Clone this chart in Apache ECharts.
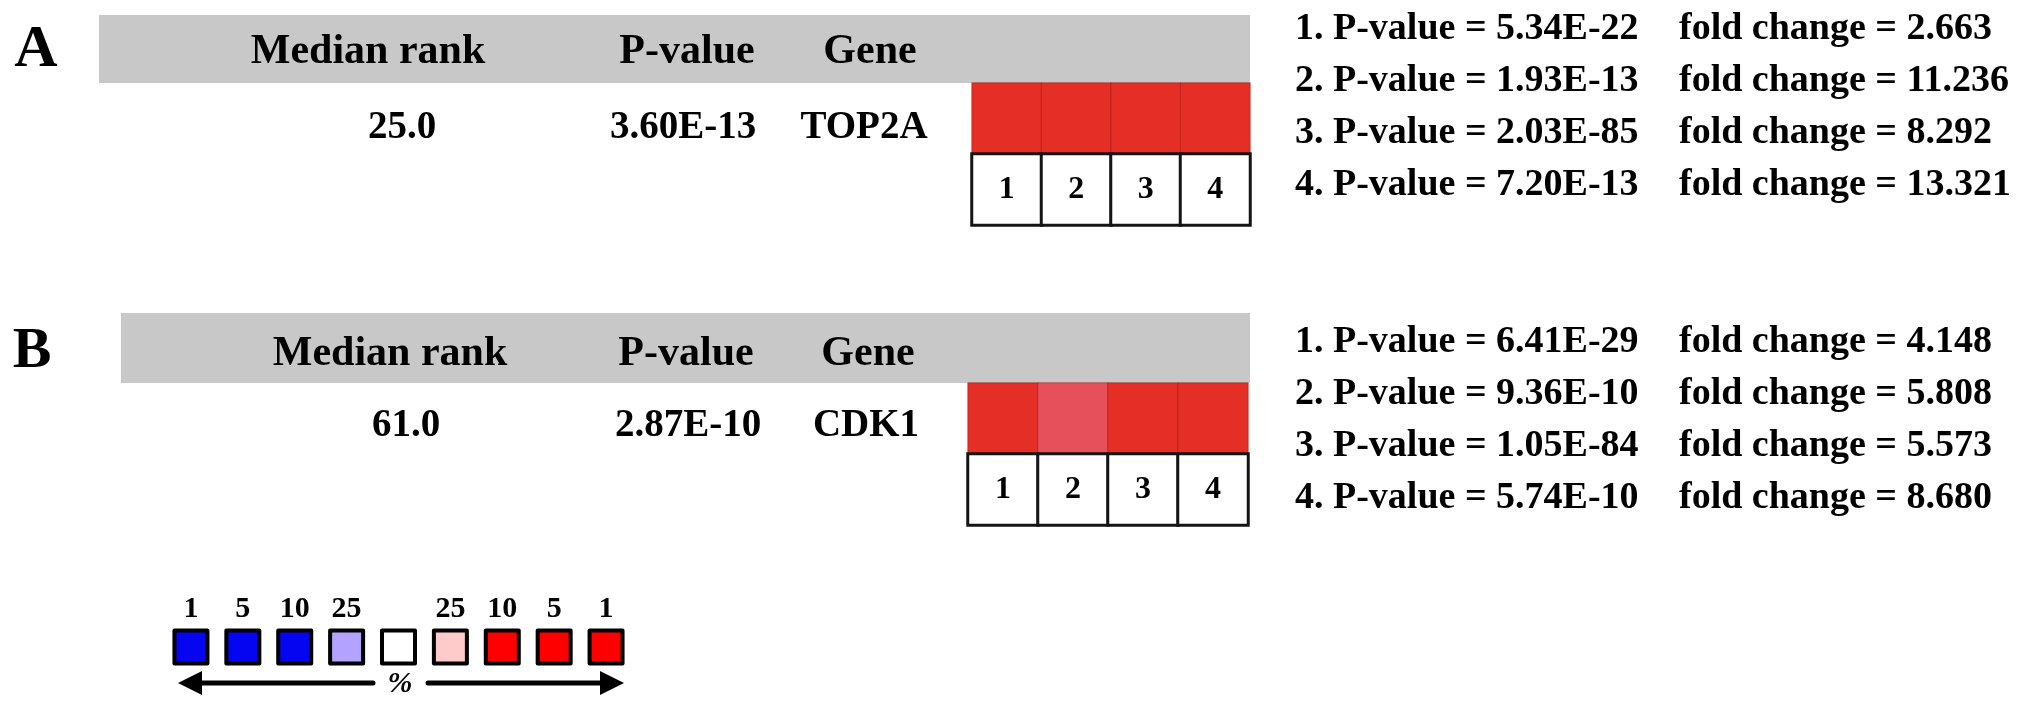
<!DOCTYPE html>
<html>
<head>
<meta charset="utf-8">
<script src="https://cdn.jsdelivr.net/npm/echarts@6/dist/echarts.min.js"></script>
<style>
html,body{margin:0;padding:0;background:#fff;}
#chart{width:2031px;height:709px;}
</style>
</head>
<body>
<div id="chart"></div>
<script>
// ---------------- data ----------------
const panelLetters = ['A', 'B'];
const headerLabels = ['Median rank', 'P-value', 'Gene'];
const medianRanks = ['25.0', '61.0'];
const geneP = ['3.60E-13', '2.87E-10'];
const genes = ['TOP2A', 'CDK1'];
const analysisIds = ['1', '2', '3', '4'];
// percentile rank class of each analysis cell (1 = top 1%, 5 = top 5%)
const cellPercentileA = [1, 1, 1, 1];
const cellPercentileB = [1, 5, 1, 1];
const studyPA = ['5.34E-22', '1.93E-13', '2.03E-85', '7.20E-13'];
const foldA = ['2.663', '11.236', '8.292', '13.321'];
const studyPB = ['6.41E-29', '9.36E-10', '1.05E-84', '5.74E-10'];
const foldB = ['4.148', '5.808', '5.573', '8.680'];
const legendLabels = ['1', '5', '10', '25', '', '25', '10', '5', '1'];
const legendClasses = ['u1', 'u5', 'u10', 'u25', 'none', 'o25', 'o10', 'o5', 'o1'];

// ---------------- styles / layout ----------------
const FONT = '"Liberation Serif", "Times New Roman", serif';
const classColor = {
  u1: '#0505f2', u5: '#0505f2', u10: '#0505f2', u25: '#b3a2ff',
  none: '#ffffff', o25: '#ffcaca', o10: '#ff0000', o5: '#ff0000', o1: '#ff0000'
};
const cellColorPieces = [
  { value: 1, color: '#e42e26' },
  { value: 5, color: '#e5505a' }
];

const layouts = [
  { letterX: 36, letterY: 50, letterSize: 60, bandX: 99, bandY: 15, bandH: 68,
    headX: [368, 687, 870], headY: 52, valX: [402, 683, 864], valY: 128,
    heatL: 972, heatR: 1250, heatT: 83, lineY0: 29 },
  { letterX: 32, letterY: 352, letterSize: 58, bandX: 121, bandY: 313, bandH: 70,
    headX: [390, 686, 868], headY: 354, valX: [406, 688, 866], valY: 426,
    heatL: 968, heatR: 1248, heatT: 383, lineY0: 342 }
];
const panels = [
  { letter: panelLetters[0], rank: medianRanks[0], p: geneP[0], gene: genes[0], cells: cellPercentileA, sp: studyPA, fc: foldA },
  { letter: panelLetters[1], rank: medianRanks[1], p: geneP[1], gene: genes[1], cells: cellPercentileB, sp: studyPB, fc: foldB }
];

const graphic = [];
const grids = [], xAxes = [], yAxes = [], series = [];
const heatSeriesIdx = [];

panels.forEach((pn, k) => {
  const L = layouts[k];
  graphic.push({ type: 'rect', z: 0, shape: { x: L.bandX, y: L.bandY, width: 1250 - L.bandX, height: L.bandH }, style: { fill: '#c8c8c8' } });
  graphic.push({ type: 'text', x: L.letterX, y: L.letterY, style: { text: pn.letter, fontFamily: FONT, fontWeight: 'bold', fontSize: L.letterSize, fill: '#000', align: 'center', verticalAlign: 'middle' } });
  headerLabels.forEach((h, i) => {
    graphic.push({ type: 'text', x: L.headX[i], y: L.headY, style: { text: h, fontFamily: FONT, fontWeight: 'bold', fontSize: 42, fill: '#000', align: 'center', verticalAlign: 'middle' } });
  });
  [pn.rank, pn.p, pn.gene].forEach((v, i) => {
    graphic.push({ type: 'text', x: L.valX[i], y: L.valY, style: { text: v, fontFamily: FONT, fontWeight: 'bold', fontSize: 39, fill: '#000', align: 'center', verticalAlign: 'middle' } });
  });
  analysisIds.forEach((id, i) => {
    const y = L.lineY0 + i * 52;
    graphic.push({ type: 'text', x: 1295, y: y, style: { text: id + '. P-value = ' + pn.sp[i], fontFamily: FONT, fontWeight: 'bold', fontSize: 38, fill: '#000', align: 'left', verticalAlign: 'middle' } });
    graphic.push({ type: 'text', x: 1679, y: y, style: { text: 'fold change = ' + pn.fc[i], fontFamily: FONT, fontWeight: 'bold', fontSize: 38, fill: '#000', align: 'left', verticalAlign: 'middle' } });
  });

  grids.push({ left: L.heatL, width: L.heatR - L.heatL, top: L.heatT, height: 142, containLabel: false });
  xAxes.push({ type: 'category', gridIndex: k, data: analysisIds, show: false });
  yAxes.push({ type: 'category', gridIndex: k, data: ['id', 'rank'], show: false });
  heatSeriesIdx.push(series.length);
  series.push({
    type: 'heatmap', xAxisIndex: k, yAxisIndex: k,
    data: pn.cells.map((v, i) => [i, 1, v]),
    itemStyle: { borderColor: 'rgba(140,20,10,0.45)', borderWidth: 1 },
    emphasis: { disabled: true }
  });
  series.push({
    type: 'heatmap', xAxisIndex: k, yAxisIndex: k,
    data: analysisIds.map((id, i) => [i, 0, Number(id)]),
    itemStyle: { color: '#ffffff', borderColor: '#141414', borderWidth: 3 },
    label: { show: true, formatter: p => analysisIds[p.data[0]], fontFamily: FONT, fontWeight: 'bold', fontSize: 32, color: '#000' },
    emphasis: { disabled: true }
  });
});

// legend strip
grids.push({ left: 165, width: 467, top: 628, height: 38 });
xAxes.push({ type: 'category', gridIndex: 2, data: legendClasses, show: false });
yAxes.push({ type: 'category', gridIndex: 2, data: ['pct'], show: false });
series.push({
  type: 'scatter', xAxisIndex: 2, yAxisIndex: 2,
  symbol: 'rect', symbolSize: 33,
  data: legendClasses.map((c, i) => ({ value: [i, 0], itemStyle: { color: classColor[c] } })),
  itemStyle: { borderColor: '#000', borderWidth: 4, opacity: 1, borderJoin: 'round' },
  label: { show: true, position: 'top', distance: 4, formatter: p => legendLabels[p.dataIndex], fontFamily: FONT, fontWeight: 'bold', fontSize: 30, color: '#000' },
  emphasis: { disabled: true }
});

// arrows and %
graphic.push({ type: 'line', shape: { x1: 196, y1: 683, x2: 373, y2: 683 }, style: { stroke: '#000', lineWidth: 5, lineCap: 'round' } });
graphic.push({ type: 'polygon', shape: { points: [[178, 683], [202, 671], [202, 695]] }, style: { fill: '#000' } });
graphic.push({ type: 'line', shape: { x1: 428, y1: 683, x2: 606, y2: 683 }, style: { stroke: '#000', lineWidth: 5, lineCap: 'round' } });
graphic.push({ type: 'polygon', shape: { points: [[624, 683], [600, 671], [600, 695]] }, style: { fill: '#000' } });
graphic.push({ type: 'text', x: 400, y: 684, style: { text: '%', fontFamily: FONT, fontWeight: 'bold', fontStyle: 'italic', fontSize: 30, fill: '#000', align: 'center', verticalAlign: 'middle' } });

const chart = echarts.init(document.getElementById('chart'), null, { renderer: 'canvas' });
chart.setOption({
  backgroundColor: '#ffffff',
  animation: false,
  grid: grids,
  xAxis: xAxes,
  yAxis: yAxes,
  visualMap: {
    type: 'piecewise', show: false, dimension: 2,
    seriesIndex: heatSeriesIdx,
    pieces: cellColorPieces
  },
  series: series,
  graphic: graphic
});
</script>
</body>
</html>
